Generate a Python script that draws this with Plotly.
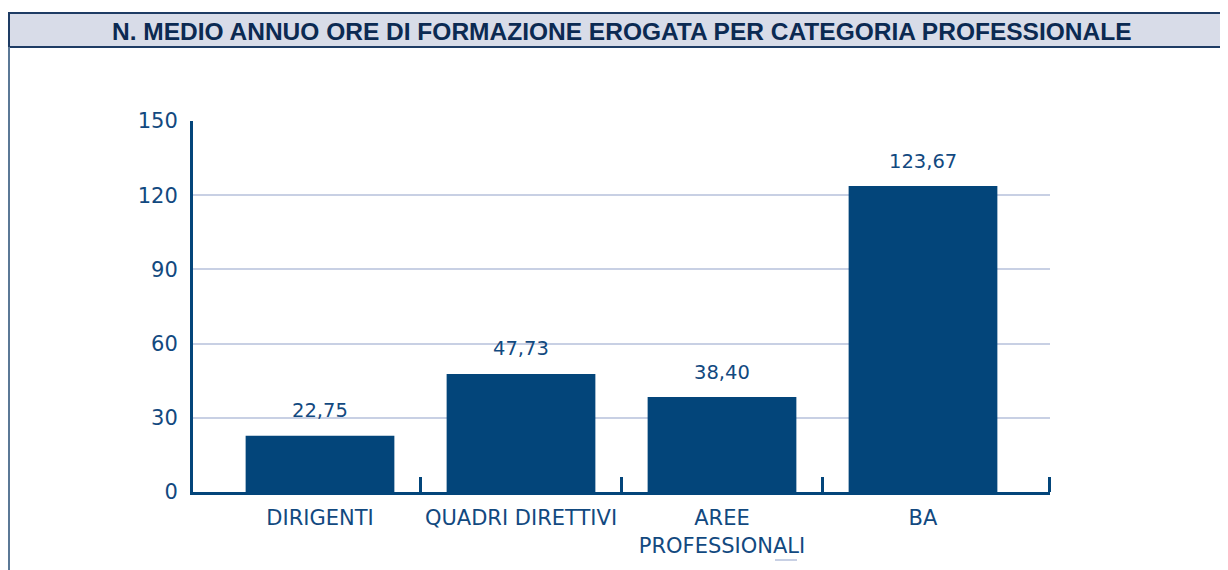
import plotly.graph_objects as go

# ---- data ----
categories = ["DIRIGENTI", "QUADRI DIRETTIVI", "AREE<br>PROFESSIONALI", "BA"]
values = [22.75, 47.73, 38.40, 123.67]
value_labels = ["22,75", "47,73", "38,40", "123,67"]
y_ticks = [0, 30, 60, 90, 120, 150]
title_text = "N. MEDIO ANNUO ORE DI FORMAZIONE EROGATA PER CATEGORIA PROFESSIONALE"

NAVY = "#03457A"
TEXT = "#12497F"
GRID = "#C8D0E4"
W, H = 1228, 570
OFF = 8  # page body margin offset
L, R, T, B = 193 - OFF, 1050 - OFF, 121 - OFF, 492 - OFF

x_pos = list(range(len(categories)))

fig = go.Figure()
fig.add_trace(go.Bar(
    x=x_pos, y=values, width=0.74,
    marker=dict(color=NAVY, line=dict(width=0)),
    hoverinfo="skip",
))

for xi, v, lab in zip(x_pos, values, value_labels):
    fig.add_annotation(x=xi, y=v, text=lab, showarrow=False, yshift=25,
                       yanchor="middle", font=dict(family="DejaVu Sans", size=19.5, color=TEXT))

def px_x(p):
    return (p - OFF - L) / (R - L)

def px_y(p):
    return (B - (p - OFF)) / (B - T)

# title bar
fig.add_shape(type="rect", xref="paper", yref="paper",
              x0=px_x(9), x1=px_x(1240), y0=px_y(47), y1=px_y(13),
              fillcolor="#D8DCE8", line=dict(color="#1E3C64", width=2), layer="below")
# left border line
fig.add_shape(type="line", xref="paper", yref="paper",
              x0=px_x(9), x1=px_x(9), y0=px_y(47), y1=px_y(590),
              line=dict(color="#5B7896", width=2))
# small dash below
fig.add_shape(type="line", xref="paper", yref="paper",
              x0=px_x(775), x1=px_x(797), y0=px_y(560), y1=px_y(560),
              line=dict(color=GRID, width=2))

fig.add_annotation(xref="paper", yref="paper", x=px_x(622), y=px_y(31),
                   text="<b>" + title_text + "</b>", showarrow=False,
                   xanchor="center", yanchor="middle",
                   font=dict(family="Liberation Sans Narrow, Arial Narrow, sans-serif", size=24.5, color="#0B2A52"))

x_min = (193 - 320) / 201
x_max = (1050 - 320) / 201

fig.update_layout(
    width=W, height=H,
    margin=dict(l=L, r=W - R, t=T, b=H - B, pad=0),
    plot_bgcolor="white", paper_bgcolor="white",
    showlegend=False,
    xaxis=dict(
        range=[x_min, x_max],
        tickmode="array", tickvals=x_pos, ticktext=categories,
        ticks="", showgrid=False, zeroline=False,
        showline=True, linecolor=NAVY, linewidth=3,
        tickfont=dict(family="DejaVu Sans", size=21, color=TEXT),
        ticklabelstandoff=5,
        minor=dict(tickmode="array", tickvals=[0.5, 1.5, 2.5, x_max - 0.004],
                   ticks="inside", ticklen=15, tickwidth=3, tickcolor=NAVY, showgrid=False),
    ),
    yaxis=dict(
        range=[0, 150],
        tickmode="array", tickvals=y_ticks,
        showgrid=True, gridcolor=GRID, gridwidth=1.5,
        zeroline=False,
        showline=True, linecolor=NAVY, linewidth=3,
        ticks="", ticklabelstandoff=8,
        tickfont=dict(family="DejaVu Sans", size=21, color=TEXT),
    ),
)

fig.write_html("out.html")
